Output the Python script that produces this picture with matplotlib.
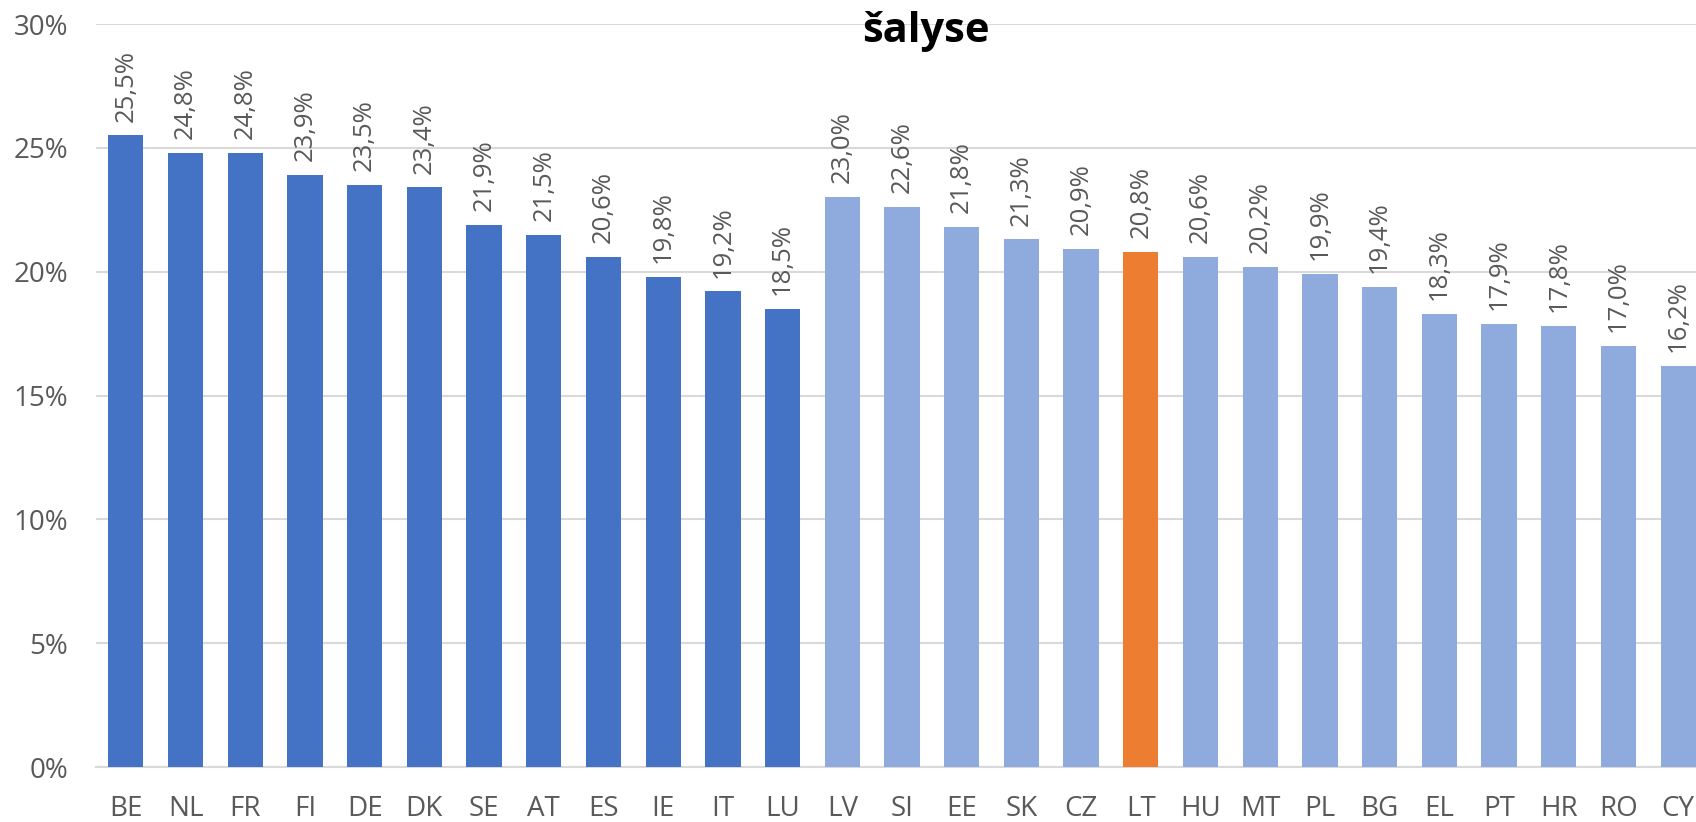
import matplotlib.pyplot as plt
from matplotlib.ticker import FuncFormatter, MultipleLocator

# data
countries = ["BE", "NL", "FR", "FI", "DE", "DK", "SE", "AT", "ES", "IE", "IT", "LU",
             "LV", "SI", "EE", "SK", "CZ", "LT", "HU", "MT", "PL", "BG", "EL", "PT",
             "HR", "RO", "CY"]
shares = [25.5, 24.8, 24.8, 23.9, 23.5, 23.4, 21.9, 21.5, 20.6, 19.8, 19.2, 18.5,
          23.0, 22.6, 21.8, 21.3, 20.9, 20.8, 20.6, 20.2, 19.9, 19.4, 18.3, 17.9,
          17.8, 17.0, 16.2]
group = ["first"] * 12 + ["second"] * 15
highlight = "LT"
title = "šalyse"

DARK = "#4472C4"
LIGHT = "#8FAADC"
ORANGE = "#ED7D31"
TEXT = "#595959"
GRID = "#D9D9D9"

plt.rcParams["font.family"] = ["Open Sans", "DejaVu Sans"]

W, H = 1696, 822
fig = plt.figure(figsize=(W / 100, H / 100), dpi=100)
# axes runs a bit past the right edge, like the cropped original
left, right, top, bottom = 96, 1708, 24, 767
ax = fig.add_axes([left / W, 1 - bottom / H, (right - left) / W, (bottom - top) / H])

colors = []
for c, g in zip(countries, group):
    if c == highlight:
        colors.append(ORANGE)
    elif g == "first":
        colors.append(DARK)
    else:
        colors.append(LIGHT)

x = range(len(countries))
bars = ax.bar(x, shares, width=0.59, color=colors, zorder=3)
ax.bar_label(bars, labels=[f"{v:.1f}%".replace(".", ",") for v in shares],
             rotation=90, padding=10, fontsize=18.5, color=TEXT)

ax.set_xlim(-0.5, len(countries) - 0.5)
ax.set_ylim(0, 30)
ax.yaxis.set_major_locator(MultipleLocator(5))
ax.yaxis.set_major_formatter(FuncFormatter(lambda v, _: f"{v:.0f}%"))
ax.grid(axis="y", color=GRID, linewidth=1.5, zorder=0)
ax.set_xticks(list(x))
ax.set_xticklabels(countries)
ax.tick_params(axis="both", length=0, labelsize=20, colors=TEXT)
ax.tick_params(axis="y", pad=20)
ax.tick_params(axis="x", pad=20)
for side in ["left", "right", "top"]:
    ax.spines[side].set_visible(False)
ax.spines["bottom"].set_color(GRID)
ax.spines["bottom"].set_linewidth(1.5)

fig.text(926 / W, 1 - 42 / H, title, ha="center", va="baseline",
         fontsize=30, fontweight="bold", color="black")

fig.savefig("out.png", dpi=100)
